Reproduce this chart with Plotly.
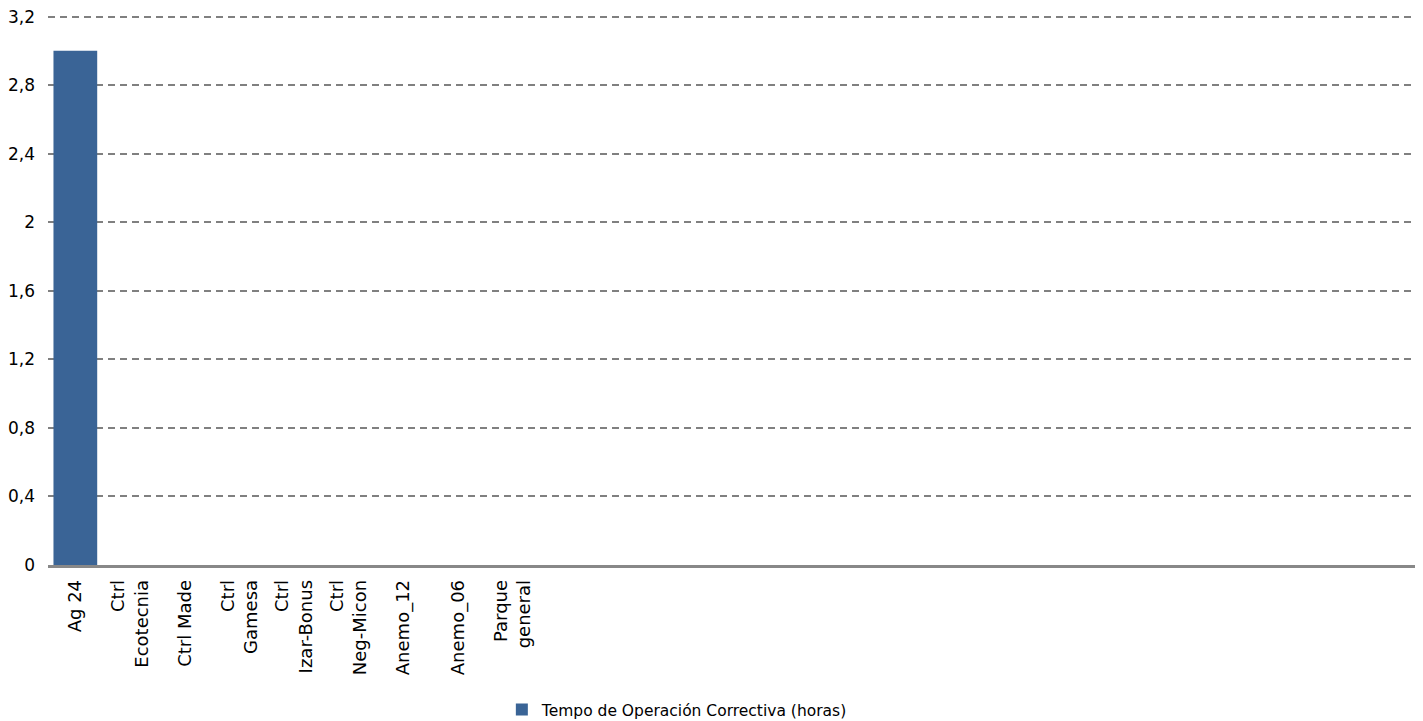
import plotly.graph_objects as go

categories = ["Ag 24", "Ctrl<br>Ecotecnia", "Ctrl Made", "Ctrl<br>Gamesa", "Ctrl<br>Izar-Bonus",
              "Ctrl<br>Neg-Micon", "Anemo_12", "Anemo_06", "Parque<br>general"]
values = [3.0, 0, 0, 0, 0, 0, 0, 0, 0]
series_name = "Tempo de Operación Correctiva (horas)"
y_tick_vals = [0, 0.4, 0.8, 1.2, 1.6, 2, 2.4, 2.8, 3.2]
y_tick_text = ["0", "0,4", "0,8", "1,2", "1,6", "2", "2,4", "2,8", "3,2"]

FONT = "DejaVu Sans"

fig = go.Figure()
fig.add_trace(go.Bar(x=categories, y=values, name=series_name,
                     marker=dict(color="#3A6496", line=dict(width=0))))

fig.update_layout(
    width=1415, height=713,
    margin=dict(l=40, r=8, t=6, b=156, autoexpand=False),
    paper_bgcolor="white", plot_bgcolor="white",
    bargap=0.2,
    showlegend=True,
    font=dict(family=FONT, color="black"),
    legend=dict(orientation="h", x=0.332, xanchor="left", y=-0.263, yanchor="middle",
                font=dict(size=15.5, family=FONT), bgcolor="rgba(0,0,0,0)"),
)
fig.update_xaxes(type="category", categoryorder="array", categoryarray=categories,
                 range=[-0.5, 24.5], tickangle=-90, tickfont=dict(size=18, family=FONT),
                 showgrid=False, showline=True, linecolor="#888888", linewidth=2.5,
                 ticks="", ticklabelstandoff=5, zeroline=False, automargin=False)
fig.update_yaxes(range=[0, 3.215], tickvals=y_tick_vals, ticktext=y_tick_text,
                 tickfont=dict(size=17, family=FONT), showgrid=True, gridcolor="#808080",
                 griddash="7px,5px", gridwidth=1.5, zeroline=False, showline=False, ticks="",
                 ticklabelstandoff=12, ticklabeloverflow="allow", automargin=False)

fig.write_html("out.html")
